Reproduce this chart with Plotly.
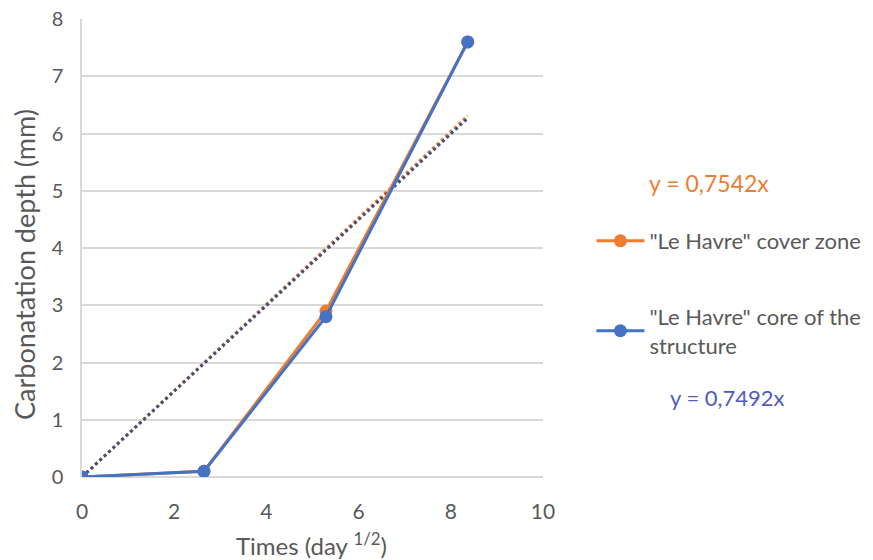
import plotly.graph_objects as go

# Data
times = [0, 2.646, 5.292, 8.367]          # day^(1/2)
cover_zone = [0, 0.1, 2.9, 7.6]
core_structure = [0, 0.1, 2.8, 7.6]
slope_cover = 0.7542
slope_core = 0.7492
trend_x = [0, 8.367]

x_ticks = [0, 2, 4, 6, 8, 10]
y_ticks = [0, 1, 2, 3, 4, 5, 6, 7, 8]

ORANGE = "#ED7D31"
BLUE = "#4472C4"
TEXT = "#595959"
FONT = "Lato"

# page body has an 8px margin; plot area targets: left 82, right 543, top ~19, bottom 477
fig = go.Figure()

# Trendlines (dotted, overlap)
fig.add_trace(go.Scatter(
    x=trend_x, y=[slope_cover * v for v in trend_x], mode="lines",
    line=dict(color=ORANGE, width=3, dash="dot"), showlegend=False, hoverinfo="skip"))
fig.add_trace(go.Scatter(
    x=trend_x, y=[slope_core * v for v in trend_x], mode="lines",
    line=dict(color="#44507A", width=3, dash="dot"), showlegend=False, hoverinfo="skip"))

fig.add_trace(go.Scatter(
    x=times, y=cover_zone, mode="lines+markers", name='"Le Havre" cover zone',
    line=dict(color=ORANGE, width=3), marker=dict(color=ORANGE, size=13),
    legendgroup="a"))
fig.add_trace(go.Scatter(
    x=times, y=core_structure, mode="lines+markers",
    name='"Le Havre" core of the<br>structure',
    line=dict(color=BLUE, width=3), marker=dict(color=BLUE, size=13),
    legendgroup="b"))

PH = 458
fig.update_layout(
    width=873, height=560,
    margin=dict(l=74, r=338, t=11, b=91),
    paper_bgcolor="white", plot_bgcolor="white",
    font=dict(family=FONT, size=20, color=TEXT),
    showlegend=True,
    legend=dict(x=1.105, y=0.561, xanchor="left", yanchor="top",
                font=dict(size=22, color=TEXT), tracegroupgap=44,
                bgcolor="rgba(0,0,0,0)", itemwidth=48),
    xaxis=dict(range=[0, 10], tickvals=x_ticks, showgrid=False, zeroline=False,
               showline=False, ticks="", tickfont=dict(size=21, color=TEXT),
               automargin=False, ticklabelstandoff=20, ticklabeloverflow="allow"),
    yaxis=dict(range=[0, 8], tickvals=y_ticks, showgrid=True, gridcolor="#D9D9D9",
               gridwidth=1.5, zeroline=True, zerolinecolor="#D9D9D9", zerolinewidth=1.5,
               showline=True, linecolor="#D9D9D9", linewidth=1.5, ticks="",
               tickfont=dict(size=20, color=TEXT), ticklabelstandoff=13,
               automargin=False, ticklabeloverflow="allow"),
    annotations=[
        dict(text="Carbonatation depth (mm)", textangle=-90,
             x=(24 - 82) / 461, y=(477 - 265) / PH, xref="paper", yref="paper",
             showarrow=False, xanchor="center", yanchor="middle",
             font=dict(size=27, color=TEXT, family=FONT)),
        dict(text="Times (day <sup>1/2</sup>)",
             x=(311 - 82) / 461, y=(477 - 544) / PH, xref="paper", yref="paper",
             showarrow=False, xanchor="center", yanchor="middle",
             font=dict(size=24, color=TEXT, family=FONT)),
        dict(text="y = 0,7542x", x=(647 - 82) / 461, y=(477 - 183) / PH, xref="paper", yref="paper",
             showarrow=False, xanchor="left", yanchor="middle",
             font=dict(size=23, color=ORANGE, family=FONT)),
        dict(text="y = 0,7492x", x=(668 - 82) / 461, y=(477 - 397) / PH, xref="paper", yref="paper",
             showarrow=False, xanchor="left", yanchor="middle",
             font=dict(size=22, color="#4F5BBF", family=FONT)),
    ],
)

fig.write_html("out.html", config={"displayModeBar": False})
